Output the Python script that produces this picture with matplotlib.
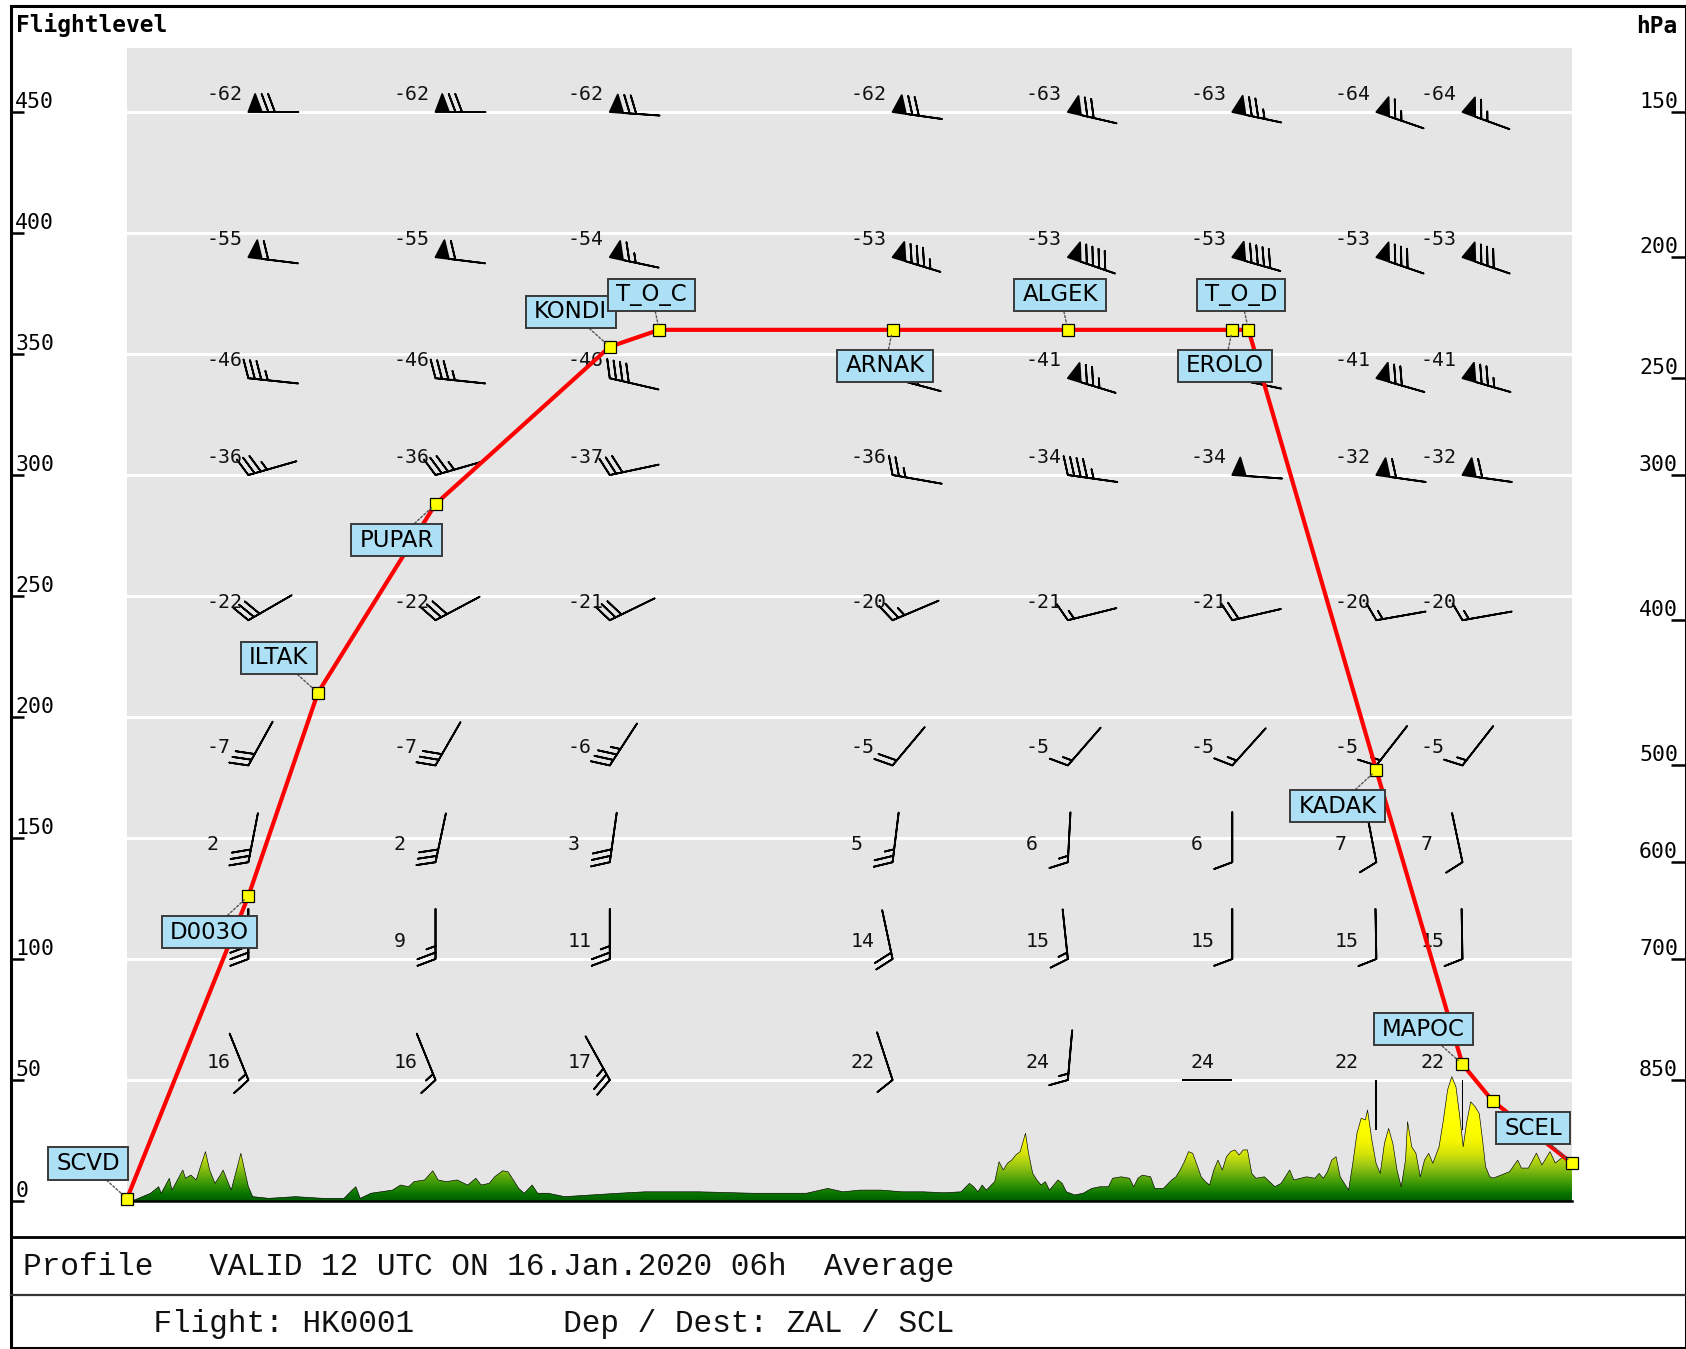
import numpy as np
import matplotlib
matplotlib.use('Agg')
import matplotlib.pyplot as plt
from matplotlib.colors import LinearSegmentedColormap
from matplotlib.patches import Polygon, Rectangle
from matplotlib.path import Path

# ---------------- data ----------------
wp_names = ['SCVD', 'D003O', 'ILTAK', 'PUPAR', 'KONDI', 'T_O_C', 'ARNAK',
            'ALGEK', 'EROLO', 'T_O_D', 'KADAK', 'MAPOC', '', 'SCEL']
wp_dist = [0.0, 8.40, 13.21, 21.35, 33.41, 36.83, 52.98,
           65.11, 76.49, 77.61, 86.46, 92.42, 94.50, 100.0]
wp_fl = [1, 126, 210, 288, 353, 360, 360, 360, 360, 360, 178, 56.5, 41.4, 15.6]
wp_label_side = ['lu', 'ld', 'lu', 'ld', 'lu', 'u', 'd', 'u', 'd', 'u',
                 'ld', 'lu', None, 'lu']

fl_ticks = [0, 50, 100, 150, 200, 250, 300, 350, 400, 450]
hpa_levels = [150, 200, 250, 300, 400, 500, 600, 700, 850]
hpa_fl = [450, 390, 340, 300, 240, 180, 140, 100, 50]

# wind columns are drawn at these waypoints
wind_wp = ['D003O', 'PUPAR', 'KONDI', 'ARNAK', 'ALGEK', 'EROLO', 'KADAK', 'MAPOC']

# None = value hidden under a waypoint label in the picture
temp = [
    [-62, -62, -62, -62, -63, -63, -64, -64],
    [-55, -55, -54, -53, -53, -53, -53, -53],
    [-46, -46, -46, None, -41, None, -41, -41],
    [-36, -36, -37, -36, -34, -34, -32, -32],
    [-22, -22, -21, -20, -21, -21, -20, -20],
    [-7, -7, -6, -5, -5, -5, -5, -5],
    [2, 2, 3, 5, 6, 6, 7, 7],
    [None, 9, 11, 14, 15, 15, 15, 15],
    [16, 16, 17, 22, 24, 24, 22, 22],
]
wind_dir = [
    [270, 270, 274, 278, 283, 282, 289, 290],
    [277, 277, 282, 287, 289, 286, 289, 289],
    [276, 276, 283, 285, 287, 282, 286, 286],
    [254, 254, 258, 280, 278, 274, 278, 278],
    [240, 242, 244, 247, 256, 257, 260, 260],
    [209, 210, 213, 220, 221, 222, 218, 218],
    [191, 192, 188, 187, 183, 180, 169, 168],
    [180, 180, 180, 168, 174, 180, 179, 179],
    [158, 158, 151, 162, 185, 90, 360, 360],
]
wind_spd = [
    [70, 70, 70, 70, 70, 75, 65, 65],
    [60, 60, 65, 85, 90, 90, 80, 80],
    [35, 35, 40, 65, 75, 75, 70, 75],
    [35, 35, 30, 25, 45, 50, 60, 60],
    [30, 30, 30, 25, 15, 20, 15, 15],
    [30, 30, 35, 20, 15, 15, 15, 15],
    [30, 30, 30, 25, 15, 10, 10, 10],
    [30, 25, 25, 20, 15, 10, 10, 10],
    [15, 15, 25, 10, 15, 2, 2, 2],
]

terrain_dist = [
    0.0, 0.51, 1.63, 2.19, 2.37, 2.93, 3.11, 3.49, 3.86, 4.05, 4.42, 4.79, 5.16,
    5.43, 5.72, 6.09, 6.46, 6.65, 7.02, 7.21, 7.58, 7.88, 8.14, 8.40, 8.70,
    9.81, 11.67, 13.54, 15.02, 15.58, 15.84, 16.14, 16.88, 18.37, 18.93, 19.49,
    19.86, 20.60, 21.16, 21.53, 22.09, 22.84, 23.58, 24.14, 24.51, 25.07, 25.44,
    26.00, 26.37, 26.74, 27.11, 27.49, 28.04, 28.42, 29.16, 30.28, 32.14, 34.00,
    35.85, 39.58, 43.29, 47.02, 48.50, 49.55,
    50.73, 52.19, 53.64, 55.10, 56.56, 57.72, 58.30, 58.60, 58.89, 59.18, 59.47,
    60.05, 60.35, 60.64, 60.93, 61.22, 61.51, 61.81, 62.18, 62.39, 62.68, 62.97,
    63.26, 63.55, 63.84, 64.14, 64.43, 64.72, 65.01, 65.59, 66.17, 66.76, 67.34,
    67.92, 68.21, 68.80, 69.38, 69.67, 69.96, 70.26, 70.84, 71.13, 71.72, 72.30,
    72.59, 72.88, 73.17, 73.46, 73.75, 74.05, 74.34, 74.63, 74.92, 75.21, 75.50,
    75.80, 76.09, 76.38, 76.67, 76.96, 77.25, 77.54, 77.84, 78.13, 78.71, 79.44,
    79.87, 80.46, 80.75, 81.63, 82.21, 82.50, 82.79, 83.08, 83.37, 83.67, 83.96,
    84.54, 84.83, 85.12, 85.41, 85.70, 85.85, 86.15, 86.44, 86.73, 87.02, 87.31,
    87.60, 87.89, 88.18, 88.48, 88.62, 88.91, 89.20, 89.50, 89.79, 90.08, 90.37,
    90.80, 91.10, 91.39, 91.68, 91.97, 92.26, 92.47, 92.70, 92.99, 93.29, 93.58,
    93.81, 94.02, 94.31, 94.57, 95.68, 96.24, 96.50, 96.98, 97.54, 97.92, 98.48,
    98.84, 99.40, 99.96, 100.0,
]
terrain_fl = [
    0.0, 0.4, 3.2, 5.9, 3.2, 9.4, 4.5, 8.7, 12.8, 9.4, 10.7, 8.7, 15.6,
    20.4, 12.8, 7.3, 10.7, 12.8, 7.3, 4.5, 12.8, 19.7, 12.8, 5.9, 1.8,
    1.1, 1.8, 1.1, 1.1, 4.5, 5.9, 1.1, 3.2, 4.5, 6.6, 5.9,
    8.0, 8.7, 12.5, 8.7, 8.0, 8.7, 6.6, 9.4, 6.6, 7.3, 10.0,
    12.5, 12.1, 8.7, 5.2, 3.2, 6.6, 3.2, 3.2, 1.8, 2.5, 3.2,
    3.8, 3.8, 3.2, 3.2, 5.2, 3.8,
    4.5, 4.5, 3.8, 3.8, 3.4, 3.8, 7.3, 5.9, 3.8, 6.6, 4.5,
    8.0, 16.2, 12.8, 15.6, 16.9, 19.0, 20.4, 28.0, 19.7, 11.4, 8.7,
    6.6, 8.0, 4.5, 6.6, 8.7, 7.3, 3.8, 2.5, 3.2, 5.2, 5.9,
    5.9, 9.4, 10.0, 9.4, 5.9, 9.4, 10.7, 10.0, 5.2, 5.2, 8.7,
    10.0, 12.8, 16.2, 20.4, 19.7, 14.9, 10.0, 8.0, 6.6, 12.8, 16.9,
    12.8, 18.3, 20.4, 21.1, 19.0, 21.1, 21.1, 11.4, 9.4, 10.0, 5.9,
    7.3, 12.8, 8.7, 10.0, 9.4, 11.4, 9.4, 12.1, 16.9, 18.3, 10.0,
    4.5, 15.6, 28.0, 34.2, 33.5, 37.6, 25.2, 15.6, 11.4, 23.8, 30.0,
    23.8, 12.8, 5.9, 16.9, 32.8, 22.4, 19.7, 10.0, 16.9, 19.7, 15.6,
    22.4, 33.5, 45.9, 51.4, 47.2, 33.5, 22.4, 32.1, 41.0, 39.0, 36.2,
    25.2, 14.2, 10.0, 9.5, 12.1, 16.9, 13.6, 13.6, 19.8, 14.9, 20.4,
    15.7, 18.3, 17.8, 17.8,
]

title_line1 = 'Profile   VALID 12 UTC ON 16.Jan.2020 06h  Average'
title_line2 = '       Flight: HK0001        Dep / Dest: ZAL / SCL'

# ---------------- figure ----------------
W, H, DPI = 1686, 1349, 100
fig = plt.figure(figsize=(W / DPI, H / DPI), dpi=DPI)
fig.patch.set_facecolor('white')

# background axes in pixel coordinates for frame and header/footer texts
bg = fig.add_axes([0, 0, 1, 1], zorder=0)
bg.set_xlim(0, W)
bg.set_ylim(H, 0)
bg.axis('off')
bg.add_patch(Rectangle((10.75, 5.5), 1685.5 - 10.75, 1347.5 - 5.5, fill=False,
                       ec='black', lw=2.2))
bg.plot([10.75, 1686], [1236.6, 1236.6], color='black', lw=2.0)
bg.plot([10.75, 1686], [1294.7, 1294.7], color='#333333', lw=1.6)
bg.text(15.6, 32.3, 'Flightlevel', fontsize=16.5, fontweight='bold',
        family='DejaVu Sans Mono', ha='left', va='baseline')
bg.text(1677, 33.3, 'hPa', fontsize=16.5, fontweight='bold',
        family='DejaVu Sans Mono', ha='right', va='baseline')
mono = ['Liberation Mono', 'DejaVu Sans Mono']
bg.text(22.6, 1275, title_line1, fontsize=22.4, family=mono, ha='left',
        va='baseline', color='#111111')
bg.text(22.6, 1331.7, title_line2, fontsize=22.4, family=mono, ha='left',
        va='baseline', color='#111111')

# main plotting area
AX_L, AX_R, AX_T, AX_B = 127, 1572, 48.4, 1201
YMAX = 476.3
pos = [AX_L / W, 1 - AX_B / H, (AX_R - AX_L) / W, (AX_B - AX_T) / H]
ax = fig.add_axes(pos, zorder=2)
ax.set_facecolor('#e5e5e5')
for s in ax.spines.values():
    s.set_visible(False)
ax.set_xticks([])
ax.set_yticks([v for v in fl_ticks if v > 0])
ax.tick_params(length=0, labelleft=False, labelbottom=False)
ax.yaxis.grid(True, color='white', lw=2.2)
ax.set_axisbelow(True)

# terrain with elevation gradient
tx = np.array(terrain_dist)
ty = np.array(terrain_fl)
verts = np.column_stack([np.r_[tx[0], tx, tx[-1]], np.r_[0, ty, 0]])
poly = Polygon(verts, closed=True, fc='none', ec='none', transform=ax.transData)
ax.add_patch(poly)
terrain_cmap = LinearSegmentedColormap.from_list('terr', [
    (0.0, '#005e00'), (0.055, '#087400'), (0.13, '#349404'),
    (0.2, '#64ac0c'), (0.28, '#9cc814'), (0.37, '#d2e20a'),
    (0.48, '#f6f600'), (0.6, '#ffff00'), (1.0, '#ffff20')])
grad = np.linspace(0, 1, 256).reshape(-1, 1)
im = ax.imshow(grad, extent=(0, 100, 0, 52), origin='lower', aspect='auto',
               cmap=terrain_cmap, zorder=3, interpolation='bilinear')
im.set_clip_path(poly)
ax.plot(tx, ty, color='black', lw=0.45, zorder=3.1)
ax.axhline(0, color='black', lw=1.8, zorder=3.2, clip_on=False)

# wind barbs and temperatures
col_x = [wp_dist[wp_names.index(n)] for n in wind_wp]
X, Y = np.meshgrid(col_x, hpa_fl)
D = np.array(wind_dir, dtype=float)
S = np.array(wind_spd, dtype=float)
U = -S * np.sin(np.deg2rad(D))
V = -S * np.cos(np.deg2rad(D))
strong = S >= 2.5
L = 8.49
ax.barbs(X[strong], Y[strong], U[strong], V[strong], length=L, pivot=-L,
         sizes=dict(spacing=0.13, height=0.36, width=0.27, emptybarb=0.0),
         linewidth=1.3, color='black', zorder=4)
weak = ~strong
ax.quiver(X[weak], Y[weak], U[weak] / S[weak], V[weak] / S[weak],
          angles='uv', scale_units='dots', scale=1 / 50.0, pivot='tail',
          headwidth=0, headlength=0, headaxislength=0, units='dots', width=1.7,
          color='black', zorder=4)
for i, fl in enumerate(hpa_fl):
    for j, x in enumerate(col_x):
        if temp[i][j] is None:
            continue
        ax.annotate(f'{temp[i][j]}', xy=(x, fl), xytext=(-42, 18),
                    textcoords='offset pixels', ha='left', va='center',
                    fontsize=14.3, family='DejaVu Sans Mono', color='#111111',
                    zorder=4)

# flight profile
ax.plot(wp_dist, wp_fl, color='#ff0000', lw=3.0, zorder=5, clip_on=False,
        solid_joinstyle='round')
ax.plot(wp_dist, wp_fl, ls='none', marker='s', ms=8.2, mfc='#ffff00',
        mec='black', mew=0.9, zorder=6, clip_on=False)


def label_box(x0, y0, width, height, mutation_size):
    px = 0.36 * mutation_size
    py = 0.2 * mutation_size
    x0, y0 = x0 - px, y0 - py
    x1, y1 = x0 + width + 2 * px, y0 + height + 2 * py
    return Path([(x0, y0), (x1, y0), (x1, y1), (x0, y1), (x0, y0)], closed=True)


offsets = {'lu': (-39, 35), 'ld': (-39, -36), 'u': (-7.5, 35), 'd': (-7.5, -36)}
label_style = dict(textcoords='offset pixels', ha='center', va='center',
                   fontsize=16.5, family='DejaVu Sans', annotation_clip=False)
for name, x, fl, side in zip(wp_names, wp_dist, wp_fl, wp_label_side):
    if not name or side is None:
        continue
    # box + leader line
    ax.annotate(name, xy=(x, fl), xytext=offsets[side], color='none', zorder=7,
                bbox=dict(boxstyle=label_box, fc='#ade0f4', ec='#3a3a3a', lw=1.4),
                arrowprops=dict(arrowstyle='-', color='#555555', lw=1.0,
                                linestyle=(0, (1.5, 1.5)), shrinkA=0, shrinkB=4),
                **label_style)
for name, x, fl, side in zip(wp_names, wp_dist, wp_fl, wp_label_side):
    if not name or side is None:
        continue
    # label text on top of all boxes
    ax.annotate(name, xy=(x, fl), xytext=offsets[side], color='black', zorder=8,
                **label_style)

ax.set_xlim(0, 100)
ax.set_ylim(0, YMAX)

# tick axes (left: flight level, right: hPa)
tpos = [11 / W, 1 - AX_B / H, (1685 - 11) / W, (AX_B - AX_T) / H]
tk = fig.add_axes(tpos, zorder=3)
tk.patch.set_visible(False)
for s in tk.spines.values():
    s.set_visible(False)
tk.set_xticks([])
tk.set_ylim(0, YMAX)
tk.set_yticks(fl_ticks)
tk.set_yticklabels([str(v) for v in fl_ticks])
tk.tick_params(axis='y', direction='in', length=9.3, width=1.8, pad=-3,
               labelsize=15.5)
for lab in tk.get_yticklabels():
    lab.set_ha('left')
    lab.set_va('bottom')
    lab.set_family('DejaVu Sans Mono')

tr = tk.twinx()
tr.patch.set_visible(False)
for s in tr.spines.values():
    s.set_visible(False)
tr.set_ylim(0, YMAX)
tr.set_yticks(hpa_fl)
tr.set_yticklabels([str(v) for v in hpa_levels])
tr.tick_params(axis='y', direction='in', length=10, width=1.8, pad=-5,
               labelsize=15.5)
for lab in tr.get_yticklabels():
    lab.set_ha('right')
    lab.set_va('bottom')
    lab.set_family('DejaVu Sans Mono')

fig.savefig('out.png', dpi=DPI)
